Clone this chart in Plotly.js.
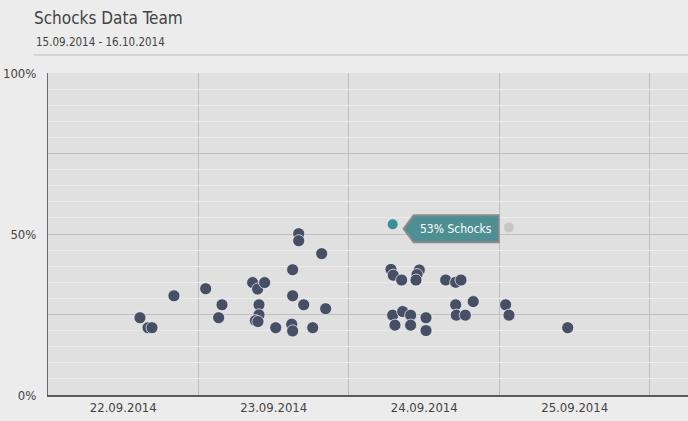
<!DOCTYPE html>
<html>
<head>
<meta charset="utf-8">
<script src="https://cdn.plot.ly/plotly-3.0.1.min.js"></script>
<style>
html,body{margin:0;padding:0;background:#ececec;}
#chart{width:688px;height:421px;}
</style>
</head>
<body>
<div id="chart"></div>
<script>
// ---- data ----
const pointTimes = [
  '2014-09-22 14:40','2014-09-22 15:57','2014-09-22 16:35','2014-09-22 20:05',
  '2014-09-23 01:09','2014-09-23 03:45','2014-09-23 03:13','2014-09-23 08:38',
  '2014-09-23 09:26','2014-09-23 10:33','2014-09-23 09:39','2014-09-23 09:39',
  '2014-09-23 09:04','2014-09-23 09:29','2014-09-23 12:19','2014-09-23 15:01',
  '2014-09-23 15:59','2014-09-23 15:59','2014-09-23 19:39','2014-09-23 15:01',
  '2014-09-23 16:47','2014-09-23 20:17','2014-09-23 14:52','2014-09-23 15:01',
  '2014-09-23 18:13',
  '2014-09-24 06:42','2014-09-24 07:04','2014-09-24 08:24','2014-09-24 11:13',
  '2014-09-24 10:51','2014-09-24 10:41','2014-09-24 15:25','2014-09-24 17:01',
  '2014-09-24 17:52','2014-09-24 17:01','2014-09-24 19:49','2014-09-25 00:59',
  '2014-09-24 17:07','2014-09-24 18:33','2014-09-25 01:31','2014-09-24 06:58',
  '2014-09-24 08:34','2014-09-24 09:50','2014-09-24 12:17','2014-09-24 07:20',
  '2014-09-24 09:50','2014-09-24 12:17','2014-09-25 10:53'
];
const pointValues = [
  24.0, 20.9, 20.9, 30.8,
  33.0, 28.0, 24.0, 34.9,
  32.9, 34.9, 28.0, 24.9,
  23.1, 22.8, 20.9, 38.9,
  50.1, 47.9, 43.9, 30.8,
  28.0, 26.8, 22.0, 19.9,
  20.9,
  39.0, 37.2, 35.7, 38.8,
  37.4, 35.7, 35.7, 35.0,
  35.7, 28.0, 29.0, 28.0,
  24.8, 24.8, 24.8, 24.8,
  25.9, 24.8, 24.0, 21.7,
  21.7, 20.0, 20.9
];
const highlightTime = ['2014-09-24 06:58'];
const highlightValue = [53];
const compareTime = ['2014-09-25 01:31'];
const compareValue = [52];
const tooltipText = '53% Schocks';
const dayTicks = ['2014-09-22 12:00','2014-09-23 12:00','2014-09-24 12:00','2014-09-25 12:00'];
const dayLabels = ['22.09.2014','23.09.2014','24.09.2014','25.09.2014'];
const yTicks = [0,25,50,75,100];
const yLabels = ['0%','','50%','','100%'];
const chartTitle = 'Schocks Data Team';
const chartSubtitle = '15.09.2014 - 16.10.2014';

const FONT = '"Liberation Sans Narrow", "DejaVu Sans Condensed", "Open Sans", sans-serif';

const traces = [
  {
    type:'scatter', mode:'markers', x: pointTimes, y: pointValues,
    marker:{size:12, color:'#474f66', line:{width:1, color:'rgba(245,245,245,0.7)'}},
    hoverinfo:'skip', showlegend:false
  },
  {
    type:'scatter', mode:'markers', x: compareTime, y: compareValue,
    marker:{size:10, color:'#c6c6c6'}, hoverinfo:'skip', showlegend:false
  },
  {
    type:'scatter', mode:'markers', x: highlightTime, y: highlightValue,
    marker:{size:10, color:'#3a9098'}, hoverinfo:'skip', showlegend:false
  }
];

const layout = {
  width:688, height:421,
  margin:{l:48, r:0, t:73, b:26, pad:0},
  paper_bgcolor:'#ececec',
  plot_bgcolor:'#e0e0e0',
  font:{family:FONT, color:'#444', size:13},
  hovermode:false,
  showlegend:false,
  title:{
    text: chartTitle,
    xref:'container', yref:'container',
    x: 34/688, xanchor:'left',
    y: 1 - 18/421, yanchor:'middle',
    font:{family:FONT, size:17, color:'#444'}
  },
  xaxis:{
    type:'date',
    range:['2014-09-22 00:00','2014-09-26 06:04'],
    tickmode:'array', tickvals: dayTicks, ticktext: dayLabels,
    showgrid:false, ticks:'', zeroline:false,
    showline:true, linecolor:'#5a5a5a', linewidth:1.5,
    tickfont:{family:FONT, size:13, color:'#444'},
    minor:{tick0:'2014-09-22', dtick:86400000, showgrid:true, gridcolor:'#bdbdbd', gridwidth:1, ticks:''},
    fixedrange:true
  },
  yaxis:{
    range:[0,100],
    tickmode:'array', tickvals: yTicks, ticktext: yLabels,
    showgrid:true, gridcolor:'#bfbfbf', gridwidth:1,
    ticks:'', zeroline:false,
    showline:true, linecolor:'#6a6a6a', linewidth:1,
    ticklabelstandoff:8,
    tickfont:{family:FONT, size:13, color:'#444'},
    minor:{dtick:5, showgrid:true, gridcolor:'#ebebeb', gridwidth:1, ticks:''},
    fixedrange:true
  },
  shapes:[
    {type:'line', xref:'paper', yref:'paper', x0:(34-48)/640, x1:1, y0:(395-55)/322, y1:(395-55)/322,
     line:{color:'#bdbdbd', width:1}},
    {type:'path', xref:'x', yref:'y', xsizemode:'pixel', ysizemode:'pixel',
     xanchor: highlightTime[0], yanchor: highlightValue[0],
     path:'M 11 -4.5 L 21 9 L 106 9 L 106 -18 L 21 -18 Z',
     fillcolor:'#4d8f92', line:{color:'#8a8a8a', width:2}}
  ],
  annotations:[
    {text: chartSubtitle, xref:'paper', yref:'paper', x:(34-48)/640, y:(395-42)/322,
     xanchor:'left', yanchor:'middle', showarrow:false,
     font:{family:FONT, size:11.5, color:'#444'}},
    {text: tooltipText, xref:'x', yref:'y', x: highlightTime[0], y: highlightValue[0],
     xshift:63, yshift:-4.5, xanchor:'center', yanchor:'middle', showarrow:false,
     font:{family:FONT, size:12, color:'#ffffff'}}
  ]
};

Plotly.newPlot('chart', traces, layout, {displayModeBar:false, staticPlot:true});
</script>
</body>
</html>
